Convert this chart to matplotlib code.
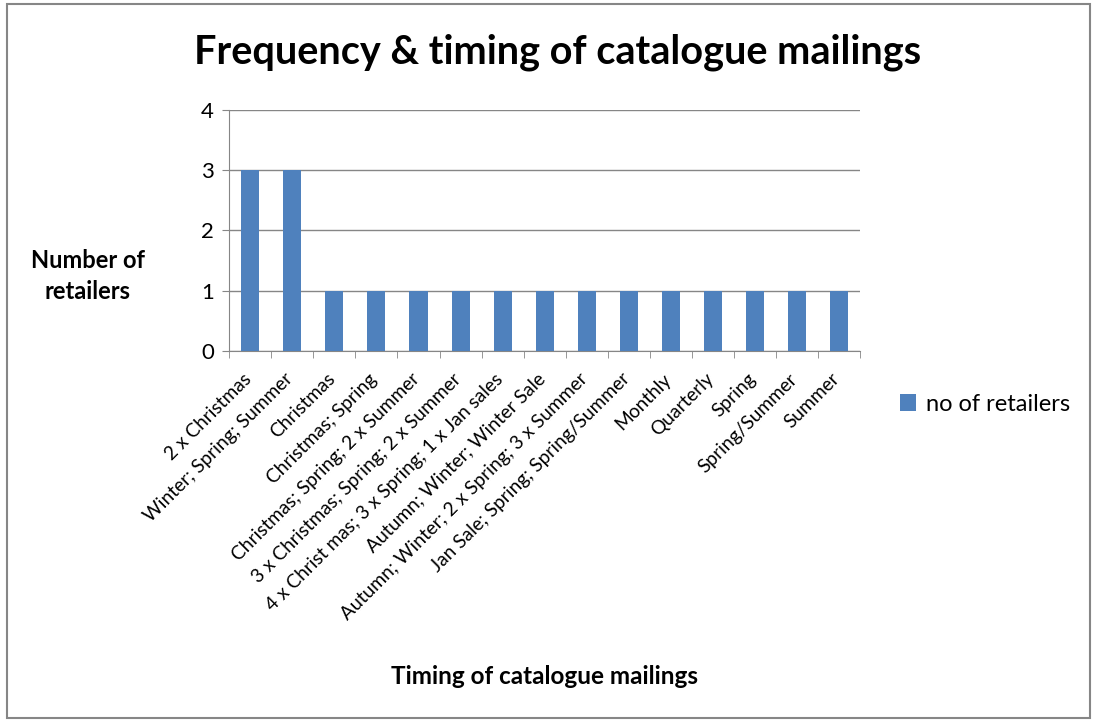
import numpy as np
import matplotlib
matplotlib.use('Agg')
import matplotlib.pyplot as plt
import matplotlib.transforms as mtransforms
from matplotlib.patches import Rectangle

# Data
categories = [
    '2 x Christmas',
    'Winter; Spring; Summer',
    'Christmas',
    'Christmas; Spring',
    'Christmas; Spring; 2 x Summer',
    '3 x Christmas; Spring; 2 x Summer',
    '4 x Christ mas; 3 x Spring; 1 x Jan sales',
    'Autumn; Winter; Winter Sale',
    'Autumn; Winter; 2 x Spring; 3 x Summer',
    'Jan Sale; Spring; Spring/Summer',
    'Monthly',
    'Quarterly',
    'Spring',
    'Spring/Summer',
    'Summer',
]
no_of_retailers = [3, 3, 1, 1, 1, 1, 1, 1, 1, 1, 1, 1, 1, 1, 1]

plt.rcParams['font.family'] = ['Lato', 'DejaVu Sans']

fig = plt.figure(figsize=(10.97, 7.22), dpi=100)
ax = fig.add_axes([0.209, 0.514, 0.575, 0.334])

x = np.arange(len(categories))
ax.bar(x, no_of_retailers, width=0.43, color='#4F81BD', zorder=3, label='no of retailers')

ax.set_xlim(-0.5, len(categories) - 0.5)
ax.set_ylim(0, 4)
ax.set_yticks([0, 1, 2, 3, 4])
ax.yaxis.grid(True, color='#868686', linewidth=1, zorder=0)

ax.set_xticks(x)
ax.set_xticklabels(categories, rotation=45, ha='right', va='top',
                   rotation_mode='anchor', fontsize=13.8)
ax.set_xticks(np.arange(-0.5, len(categories)), minor=True)
ax.tick_params(axis='x', which='major', length=0, pad=14)
ax.tick_params(axis='x', which='minor', length=5, color='#868686')
ax.tick_params(axis='y', length=5, color='#868686', labelsize=16, pad=6)

# nudge the rotated labels a little to the left
shift = mtransforms.ScaledTranslation(-8 / 100, 0, fig.dpi_scale_trans)
for lbl in ax.get_xticklabels():
    lbl.set_transform(lbl.get_transform() + shift)

for s in ['top', 'right']:
    ax.spines[s].set_visible(False)
for s in ['left', 'bottom']:
    ax.spines[s].set_color('#868686')

fig.text(0.508, 0.927, 'Frequency & timing of catalogue mailings',
         ha='center', va='center', fontsize=28.5, fontweight='bold')
fig.text(0.080, 0.618, 'Number of\nretailers', ha='center', va='center',
         fontsize=17, fontweight='bold', linespacing=1.45)
fig.text(0.496, 0.063, 'Timing of catalogue mailings', ha='center',
         va='center', fontsize=17.5, fontweight='bold')

fig.legend(loc='center left', bbox_to_anchor=(0.801, 0.44), frameon=False,
           fontsize=17, handlelength=0.7, handleheight=0.7, handletextpad=0.4)

fig.patches.append(Rectangle((0.006, 0.006), 0.988, 0.988, transform=fig.transFigure,
                             fill=False, edgecolor='#868686', linewidth=1.5))

fig.savefig('out.png', dpi=100)
